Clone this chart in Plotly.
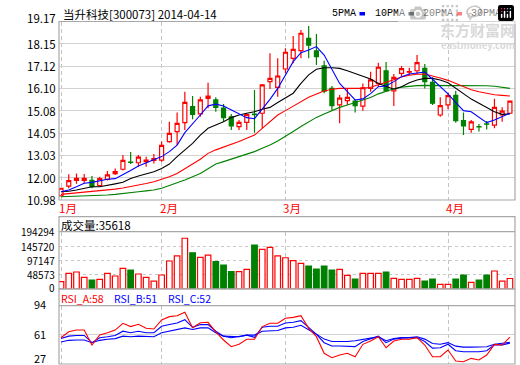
import plotly.graph_objects as go

W, H = 520, 365
def px(v): return v / W
def py(v): return 1 - v / H

# ---------------- data ----------------
idx = list(range(59))  # trading-day index, 2014-01-14 .. 2014-04-14
month_labels = ['1月', '2月', '3月', '4月']
month_pos = [0, 13, 29, 50]

open_ = [11.17, 11.62, 11.88, 11.88, 11.88, 11.64, 11.93, 12.19, 12.39, 12.72,
         12.69, 12.74, 12.80, 12.81, 13.66, 14.12, 14.53, 15.26, 14.93, 15.64,
         15.57, 15.20, 14.80, 14.35, 14.54, 14.92, 14.96, 16.41, 16.15, 16.99,
         17.48, 17.83, 18.40, 17.82, 17.13, 16.10, 15.34, 15.54, 15.52, 15.29,
         16.10, 16.33, 16.91, 15.99, 16.79, 16.85, 16.91, 17.02, 16.38, 14.88,
         15.34, 15.78, 14.62, 14.22, 14.35, 14.47, 14.42, 14.88, 14.96]
high = [11.52, 12.16, 12.20, 12.17, 12.08, 12.05, 12.31, 12.43, 13.05, 13.18,
        13.05, 12.97, 13.09, 13.66, 14.57, 14.99, 15.95, 15.75, 15.72, 16.36,
        15.69, 15.39, 14.93, 14.65, 14.96, 16.03, 16.30, 17.71, 17.48, 17.94,
        18.50, 18.78, 18.96, 18.60, 17.37, 16.21, 15.80, 16.10, 15.60, 16.33,
        16.87, 17.28, 17.31, 16.76, 17.13, 17.05, 17.63, 17.22, 16.61, 15.69,
        15.90, 15.99, 14.99, 14.65, 14.47, 14.60, 15.62, 15.23, 15.52]
low = [11.15, 11.52, 11.72, 11.75, 11.52, 11.63, 11.87, 12.13, 12.33, 12.63,
       12.51, 12.51, 12.66, 12.74, 13.61, 13.50, 14.19, 14.68, 14.80, 15.19,
       15.03, 14.56, 14.19, 14.19, 14.19, 14.07, 14.27, 16.07, 15.72, 16.79,
       17.25, 17.48, 17.48, 17.17, 15.88, 15.11, 14.50, 15.34, 14.99, 15.08,
       15.95, 16.18, 15.95, 15.29, 16.67, 16.72, 16.76, 16.10, 15.34, 14.80,
       15.14, 14.53, 13.96, 14.07, 14.12, 14.22, 14.27, 14.57, 14.93]
close = [11.52, 11.87, 11.97, 11.97, 11.59, 11.96, 12.13, 12.28, 12.80, 12.70,
         12.95, 12.81, 12.88, 13.49, 14.04, 14.50, 15.46, 14.91, 15.57, 15.75,
         15.23, 14.76, 14.38, 14.54, 14.90, 14.90, 16.26, 16.56, 16.67, 17.76,
         17.89, 18.63, 18.09, 17.56, 15.98, 15.31, 15.65, 15.69, 15.31, 16.13,
         16.49, 17.07, 15.99, 16.61, 17.01, 16.87, 17.28, 16.41, 15.42, 15.31,
         15.77, 14.62, 14.38, 14.56, 14.33, 14.46, 15.23, 15.06, 15.52]

ma5 = [11.36, 11.44, 11.59, 11.75, 11.79, 11.87, 11.93, 11.96, 12.13, 12.33,
       12.54, 12.69, 12.82, 12.97, 13.20, 13.50, 14.07, 14.50, 14.88, 15.30,
       15.38, 15.29, 15.11, 14.91, 14.76, 14.71, 15.14, 15.60, 16.10, 16.72,
       17.33, 17.74, 17.86, 18.02, 17.63, 16.98, 16.33, 15.95, 15.57, 15.62,
       15.86, 16.18, 16.21, 16.41, 16.64, 16.76, 16.82, 16.85, 16.52, 16.18,
       15.85, 15.45, 15.08, 15.03, 14.80, 14.53, 14.65, 14.80, 14.96]
ma10 = [11.36, 11.38, 11.44, 11.52, 11.59, 11.59, 11.64, 11.72, 11.79, 11.97,
        12.08, 12.17, 12.28, 12.43, 12.63, 12.97, 13.27, 13.58, 13.96, 14.27,
        14.42, 14.57, 14.76, 14.88, 14.96, 15.03, 15.14, 15.23, 15.45, 15.65,
        15.88, 16.33, 16.72, 16.98, 17.05, 17.05, 17.02, 16.91, 16.79, 16.64,
        16.53, 16.33, 16.18, 16.06, 16.18, 16.36, 16.49, 16.56, 16.56, 16.49,
        16.36, 16.10, 15.84, 15.61, 15.42, 15.23, 15.03, 14.91, 14.93]
ma20 = [11.24, 11.27, 11.30, 11.33, 11.36, 11.40, 11.44, 11.48, 11.53, 11.59,
        11.67, 11.74, 11.82, 11.93, 12.05, 12.20, 12.40, 12.63, 12.85, 13.12,
        13.28, 13.40, 13.53, 13.66, 13.81, 13.96, 14.27, 14.57, 14.88, 15.08,
        15.29, 15.49, 15.69, 15.84, 15.98, 16.06, 16.10, 16.10, 16.10, 16.10,
        16.15, 16.28, 16.38, 16.50, 16.62, 16.70, 16.75, 16.76, 16.68, 16.58,
        16.47, 16.32, 16.17, 16.04, 15.95, 15.87, 15.81, 15.78, 15.75]
ma30 = [11.13, 11.14, 11.15, 11.16, 11.17, 11.19, 11.21, 11.24, 11.27, 11.30,
        11.36, 11.40, 11.44, 11.52, 11.64, 11.76, 11.90, 12.05, 12.20, 12.41,
        12.63, 12.74, 12.85, 12.97, 13.09, 13.20, 13.35, 13.50, 13.69, 13.89,
        14.12, 14.35, 14.57, 14.77, 14.93, 15.08, 15.23, 15.34, 15.45, 15.57,
        15.68, 15.85, 15.98, 16.08, 16.16, 16.20, 16.23, 16.24, 16.24, 16.24,
        16.24, 16.24, 16.23, 16.23, 16.22, 16.22, 16.20, 16.15, 16.10]

volume = [24800, 53000, 57600, 39600, 30500, 32800, 53000, 44000, 70000, 64000,
          50900, 39600, 27000, 47500, 95000, 112000, 172000, 123000, 107500, 115000,
          92600, 81000, 58800, 58800, 66700, 149000, 134500, 141000, 112000, 106000,
          96000, 87000, 78000, 67800, 78000, 64400, 66700, 46400, 33900, 53000,
          53000, 53000, 57600, 36200, 32800, 32800, 36200, 27000, 33900, 15800,
          15800, 33900, 47500, 22600, 30500, 47500, 61000, 27000, 35618]

rsi_a = [57.2, 64.0, 66.0, 66.0, 48.8, 60.3, 63.0, 66.0, 73.8, 70.0,
         72.6, 68.0, 67.2, 77.6, 81.4, 82.5, 86.4, 68.7, 74.5, 74.9,
         64.0, 54.6, 46.9, 49.6, 55.4, 55.4, 70.0, 73.8, 73.8, 79.5,
         80.6, 82.5, 68.0, 58.4, 39.3, 34.2, 37.3, 39.3, 35.4, 49.6,
         53.4, 58.4, 45.7, 53.4, 55.4, 55.4, 57.2, 48.8, 35.4, 35.4,
         43.1, 30.4, 29.6, 33.5, 31.6, 37.3, 49.6, 48.8, 58.0]
rsi_b = [56.2, 59.0, 59.8, 59.8, 51.5, 57.2, 58.4, 59.8, 64.7, 62.9,
         64.7, 62.9, 62.9, 70.3, 72.3, 74.1, 77.9, 69.2, 72.3, 72.3,
         64.7, 59.0, 57.2, 58.4, 60.2, 57.6, 69.2, 70.3, 70.3, 74.1,
         74.9, 76.8, 68.5, 61.0, 51.5, 47.7, 47.7, 47.7, 47.0, 52.9,
         55.6, 59.0, 51.5, 55.6, 56.7, 56.7, 57.3, 52.9, 45.2, 45.6,
         49.7, 42.2, 41.1, 41.1, 41.1, 42.2, 49.0, 49.0, 51.0]
rsi_c = [52.3, 54.2, 54.6, 54.6, 51.5, 54.2, 55.4, 56.2, 59.0, 58.4,
         59.0, 59.0, 58.4, 62.9, 64.7, 66.6, 68.5, 66.6, 68.5, 68.5,
         62.9, 59.0, 58.4, 58.4, 60.2, 60.2, 64.7, 65.5, 65.5, 68.5,
         69.2, 71.5, 66.6, 61.3, 55.6, 52.9, 52.9, 52.9, 53.8, 55.6,
         56.7, 58.3, 53.8, 56.3, 57.5, 57.5, 58.3, 55.6, 50.5, 49.7,
         51.6, 47.5, 46.4, 46.4, 46.4, 46.8, 49.7, 50.5, 52.0]

price_ticks = [10.98, 12.00, 13.03, 14.05, 15.08, 16.10, 17.12, 18.15, 19.17]
price_tick_text = ['10.98', '12.00', '13.03', '14.05', '15.08', '16.10', '17.12', '18.15', '19.17']
vol_ticks = [0, 48573, 97147, 145720, 194294]
vol_tick_text = ['0', '48573', '97147', '145720', '194294']
rsi_ticks = [27, 61, 94]
rsi_tick_text = ['27', '61', '94']

title_text = '当升科技[300073] 2014-04-14'
ma_names = ['5PMA', '10PMA', '20PMA', '30PMA']
ma_colors = ['#0000ff', '#000000', '#ff0000', '#008000']
rsi_names = ['RSI_A:58', 'RSI_B:51', 'RSI_C:52']
RED, GREEN = '#ff0000', '#008000'

FONT = 'Noto Sans CJK SC, Noto Sans, sans-serif'
MONO = 'Liberation Mono, DejaVu Sans Mono, monospace'

# ---------------- figure ----------------
fig = go.Figure()

fig.add_trace(go.Candlestick(
    x=idx, open=open_, high=high, low=low, close=close,
    increasing=dict(line=dict(color=RED, width=1.2), fillcolor='#ffffff'),
    decreasing=dict(line=dict(color=GREEN, width=1.2), fillcolor=GREEN),
    whiskerwidth=0, showlegend=False, hoverinfo='skip',
    xaxis='x', yaxis='y'))

for vals, col in zip([ma30, ma20, ma10, ma5], ma_colors[::-1]):
    fig.add_trace(go.Scatter(x=idx, y=vals, mode='lines',
                             line=dict(color=col, width=1.1),
                             showlegend=False, hoverinfo='skip',
                             xaxis='x', yaxis='y'))

up = [c >= o for o, c in zip(open_, close)]
fig.add_trace(go.Bar(
    x=idx, y=volume, width=0.72,
    marker=dict(color=['#ffffff' if u else GREEN for u in up],
                line=dict(color=[RED if u else GREEN for u in up], width=1.2)),
    showlegend=False, hoverinfo='skip', xaxis='x2', yaxis='y2'))

for vals, col in [(rsi_c, '#0000ff'), (rsi_b, '#0000ff'), (rsi_a, '#ff0000')]:
    fig.add_trace(go.Scatter(x=idx, y=vals, mode='lines',
                             line=dict(color=col, width=1.1),
                             showlegend=False, hoverinfo='skip',
                             xaxis='x3', yaxis='y3'))

xr = [-0.258, 58.656]
xdom = [px(59), px(515)]
xcommon = dict(domain=xdom, range=xr, tickvals=month_pos, showticklabels=False,
               showgrid=True, gridcolor='#c4c4c4', griddash='4px,3px', gridwidth=1,
               zeroline=False, showline=False, ticks='', fixedrange=True)

fig.update_layout(
    width=W, height=H,
    margin=dict(l=0, r=0, t=0, b=0),
    paper_bgcolor='#ffffff', plot_bgcolor='#ffffff',
    font=dict(family=FONT, size=11, color='#000000'),
    boxgap=0.26,
    showlegend=False,
    xaxis=dict(**xcommon, anchor='y', rangeslider=dict(visible=False)),
    xaxis2=dict(**xcommon, anchor='y2', matches='x'),
    xaxis3=dict(**xcommon, anchor='y3', matches='x'),
    yaxis=dict(domain=[py(200), py(21.5)], range=[price_ticks[0], price_ticks[-1]],
               tickvals=price_ticks, showticklabels=False, showgrid=True,
               gridcolor='#d2d2d2', zeroline=False, ticks='', fixedrange=True),
    yaxis2=dict(domain=[py(289), py(231.7)], range=[vol_ticks[0], vol_ticks[-1]],
                tickvals=vol_ticks, showticklabels=False, showgrid=True,
                gridcolor='#c8c8c8', griddash='dot', zeroline=False, ticks='', fixedrange=True),
    yaxis3=dict(domain=[py(364), py(305.7)], range=[rsi_ticks[0], rsi_ticks[-1]],
                tickvals=rsi_ticks, showticklabels=False, showgrid=True,
                gridcolor='#d2d2d2', zeroline=False, ticks='', fixedrange=True),
)

BORDER = dict(color='#a8a8a8', width=1.2)
shapes = [
    dict(type='rect', xref='paper', yref='paper', x0=px(59), x1=px(515), y0=py(200), y1=py(21.5), line=BORDER),
    dict(type='rect', xref='paper', yref='paper', x0=px(59), x1=px(515), y0=py(289), y1=py(216.7), line=BORDER),
    dict(type='line', xref='paper', yref='paper', x0=px(59), x1=px(515), y0=py(231.7), y1=py(231.7), line=BORDER),
    dict(type='rect', xref='paper', yref='paper', x0=px(59), x1=px(515), y0=py(364), y1=py(289), line=BORDER),
    dict(type='line', xref='paper', yref='paper', x0=px(59), x1=px(515), y0=py(305.7), y1=py(305.7), line=BORDER),
]
# legend colour swatches
for xs, col in zip([359.5, 408.5, 456.5, 503.5], ma_colors):
    shapes.append(dict(type='rect', xref='paper', yref='paper', x0=px(xs), x1=px(xs + 5.5),
                       y0=py(15.5), y1=py(12), line=dict(width=0), fillcolor=col))
fig.update_layout(shapes=shapes)

ann = []
ann.append(dict(text=title_text, xref='paper', yref='paper', x=px(61), y=py(14),
                xanchor='left', yanchor='middle', showarrow=False, font=dict(size=11.5)))
for name, xs in zip(ma_names, [331, 373.5, 421.5, 469.5]):
    ann.append(dict(text=name, xref='paper', yref='paper', x=px(xs), y=py(14),
                    xanchor='left', yanchor='middle', showarrow=False, borderpad=0,
                    font=dict(size=10, family=MONO)))
# watermark
ann.append(dict(text='<b>东方财富网</b>', xref='paper', yref='paper', x=px(516), y=py(29),
                xanchor='right', yanchor='middle', showarrow=False, borderpad=0,
                font=dict(size=15, color='#d9d9d9')))
ann.append(dict(text='<b>eastmoney.com</b>', xref='paper', yref='paper', x=px(516), y=py(45),
                xanchor='right', yanchor='middle', showarrow=False, borderpad=0,
                font=dict(size=9.5, color='#d9d9d9')))
# price tick labels
for v, t in zip(price_ticks, price_tick_text):
    shift = 4 if v == price_ticks[-1] else 0
    ann.append(dict(text=t, xref='paper', yref='y', x=px(57), y=v, yshift=shift,
                    xanchor='right', yanchor='middle', showarrow=False, borderpad=0,
                    font=dict(size=11.5)))
for v, t in zip(vol_ticks, vol_tick_text):
    shift = 2 if v == 0 else 0
    ann.append(dict(text=t, xref='paper', yref='y2', x=px(56), y=v, yshift=shift,
                    xanchor='right', yanchor='middle', showarrow=False, borderpad=0,
                    font=dict(size=10)))
for v, t in zip(rsi_ticks, rsi_tick_text):
    shift = 6.5 if v == rsi_ticks[0] else (2 if v == rsi_ticks[-1] else 0)
    ann.append(dict(text=t, xref='paper', yref='y3', x=px(47), y=v, yshift=shift,
                    xanchor='right', yanchor='middle', showarrow=False, borderpad=0,
                    font=dict(size=11)))
# month labels
for p, t in zip(month_pos, month_labels):
    ann.append(dict(text=t, xref='x', yref='paper', x=p, y=py(207.5), xshift=-4,
                    xanchor='left', yanchor='middle', showarrow=False,
                    font=dict(size=11.5, color=RED)))
# panel headers
ann.append(dict(text='成交量:' + str(volume[-1]), xref='paper', yref='paper', x=px(59), y=py(224.5),
                xanchor='left', yanchor='middle', showarrow=False, font=dict(size=11.5)))
for name, xs, col in zip(rsi_names, [59, 112, 166], ['#ff0000', '#0000ff', '#0000ff']):
    ann.append(dict(text=name, xref='paper', yref='paper', x=px(xs), y=py(298),
                    xanchor='left', yanchor='middle', showarrow=False,
                    font=dict(size=10.5, color=col)))
fig.update_layout(annotations=ann)

fig.write_html('out.html',
               post_script="document.body.style.margin='0px';document.body.style.padding='0px';")
